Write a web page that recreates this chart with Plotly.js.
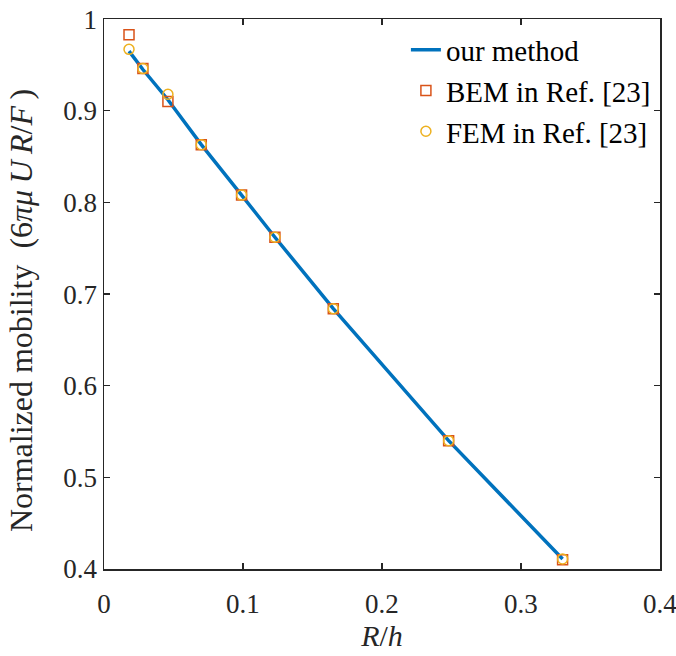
<!DOCTYPE html>
<html>
<head>
<meta charset="utf-8">
<script src="https://cdn.plot.ly/plotly-3.0.1.min.js"></script>
<style>html,body{margin:0;padding:0;background:#fff;}#chart{width:676px;height:656px;}</style>
</head>
<body>
<div id="chart"></div>
<script>
// R/h values
const rh = [0.018, 0.028, 0.046, 0.07, 0.099, 0.123, 0.165, 0.248, 0.33];
// our method (line)
const ourMethod = [0.965, 0.945, 0.912, 0.863, 0.808, 0.762, 0.684, 0.540, 0.411];
// BEM in Ref. [23]
const bem = [0.983, 0.946, 0.910, 0.863, 0.808, 0.762, 0.684, 0.540, 0.410];
// FEM in Ref. [23]
const fem = [0.967, 0.946, 0.918, 0.863, 0.808, 0.762, 0.684, 0.540, 0.411];

const xTicks = [0, 0.1, 0.2, 0.3, 0.4];
const xTickText = ['0', '0.1', '0.2', '0.3', '0.4'];
const yTicks = [0.4, 0.5, 0.6, 0.7, 0.8, 0.9, 1];
const yTitle = 'Normalized mobility\u2002(6<i>πμ\u2009U\u2009R</i>/<i>F</i>\u2009)';

const serif = '"Liberation Serif", "Times New Roman", Times, serif';

const traces = [
  {x: rh, y: ourMethod, mode: 'lines', name: 'our method',
   line: {color: '#0072BD', width: 3.5}},
  {x: rh, y: bem, mode: 'markers', name: 'BEM in Ref. [23]',
   marker: {symbol: 'square-open', size: 10, color: '#D95319', line: {width: 1.5}}},
  {x: rh, y: fem, mode: 'markers', name: 'FEM in Ref. [23]',
   marker: {symbol: 'circle-open', size: 10, color: '#EDB120', line: {width: 1.5}}}
];

const axisCommon = {
  showgrid: false, zeroline: false, showline: true, linecolor: '#262626', linewidth: 1.5,
  mirror: 'ticks', ticks: 'inside', ticklen: 6, tickwidth: 1.2, tickcolor: '#262626',
  tickfont: {family: serif, size: 27, color: '#262626'}, ticklabeloverflow: 'allow'
};

const layout = {
  width: 676, height: 656,
  margin: {l: 104, r: 16, t: 19, b: 87},
  paper_bgcolor: '#fff', plot_bgcolor: '#fff',
  showlegend: true,
  legend: {x: 0.543, y: 0.99, xanchor: 'left', yanchor: 'top', bgcolor: 'rgba(0,0,0,0)',
           font: {family: serif, size: 29, color: '#000'}},
  xaxis: Object.assign({}, axisCommon, {
    range: [0, 0.4001], tickvals: xTicks, ticktext: xTickText, ticklabelstandoff: 10,
    title: {text: '<i>R</i>/<i>h</i>', font: {family: serif, size: 30, color: '#262626'}, standoff: 2}
  }),
  yaxis: Object.assign({}, axisCommon, {
    range: [0.4, 1.0001], tickvals: yTicks
  }),
  annotations: [{
    text: yTitle, xref: 'paper', yref: 'paper', x: -0.15, y: 0.47,
    xanchor: 'center', yanchor: 'middle', textangle: -90, showarrow: false,
    font: {family: serif, size: 32, color: '#262626'}
  }]
};

Plotly.newPlot('chart', traces, layout, {staticPlot: true, displayModeBar: false});
</script>
</body>
</html>
